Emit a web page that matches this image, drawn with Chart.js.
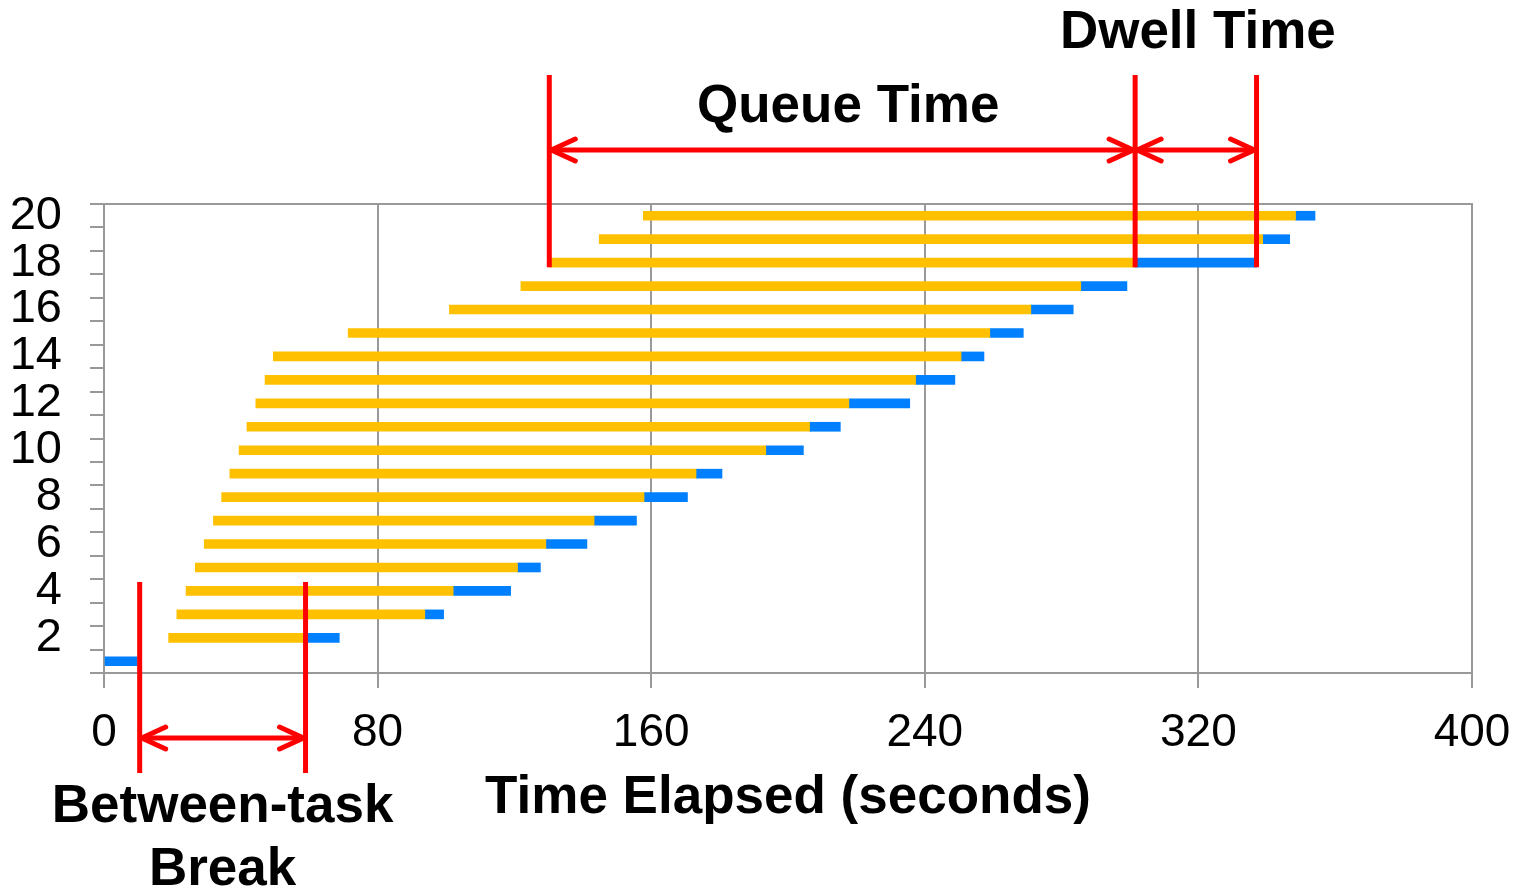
<!DOCTYPE html>
<html>
<head>
<meta charset="utf-8">
<script src="https://cdn.jsdelivr.net/npm/chart.js@4"></script>
<style>
  body { margin: 0; background: #fff; }
  canvas { display: block; }
</style>
</head>
<body>
<canvas id="myChart" width="1524" height="889"></canvas>
<script>
// rows of the chart, 1 at the bottom
const rows = ["1","2","3","4","5","6","7","8","9","10","11","12","13","14","15","16","17","18","19","20"];
// queue start, queue end (= dwell start), task end, in seconds
const queueStart = [null, 18.9, 21.3, 24.0, 26.7, 29.3, 32.0, 34.4, 36.8, 39.5, 41.8, 44.4, 47.1, 49.5, 71.4, 101.0, 121.9, 130.2, 144.8, 157.7];
const dwellStart = [0, 58.2, 93.8, 102.1, 120.9, 129.2, 143.3, 157.9, 173.1, 193.5, 206.3, 217.8, 237.3, 250.6, 259.0, 271.0, 285.6, 301.5, 338.8, 348.4];
const taskEnd = [9.7, 68.8, 99.3, 118.9, 127.6, 141.2, 155.7, 170.6, 180.7, 204.5, 215.3, 235.6, 248.8, 257.3, 268.8, 283.4, 299.1, 337.0, 346.7, 354.1];
const xTicks = [0, 80, 160, 240, 320, 400];

const queueData = rows.map((r, i) => queueStart[i] === null ? null : [queueStart[i], dwellStart[i]]);
const dwellData = rows.map((r, i) => [dwellStart[i], taskEnd[i]]);

const ctx = document.getElementById("myChart");
const RED = "#ff0000";
const FONT = "'Liberation Sans', Arial, sans-serif";

function arrowHead(c, x, y, dir) {
  c.beginPath();
  c.moveTo(x - dir * 24, y - 11);
  c.lineTo(x, y);
  c.lineTo(x - dir * 24, y + 11);
  c.stroke();
}

function arrow(c, x1, x2, y) {
  c.beginPath();
  c.moveTo(x1, y);
  c.lineTo(x2, y);
  c.stroke();
  arrowHead(c, x1, y, -1);
  arrowHead(c, x2, y, 1);
}

function vline(c, x, y1, y2) {
  c.save();
  c.lineCap = "butt";
  c.beginPath();
  c.moveTo(x, y1);
  c.lineTo(x, y2);
  c.stroke();
  c.restore();
}

const frame = {
  id: "frame",
  beforeDatasetsDraw(chart) {
    const a = chart.chartArea;
    const c = chart.ctx;
    c.save();
    c.strokeStyle = "#999";
    c.lineWidth = 2;
    c.strokeRect(a.left, a.top, a.right - a.left, a.bottom - a.top);
    c.restore();
  }
};

const notes = {
  id: "notes",
  afterDraw(chart) {
    const c = chart.ctx;
    const x = chart.scales.x;
    const y = chart.scales.y;
    c.save();
    c.strokeStyle = RED;
    c.lineWidth = 5;
    c.lineCap = "round";
    c.lineJoin = "round";

    // queue / dwell of task 18
    const q0 = x.getPixelForValue(queueStart[17]);
    const q1 = x.getPixelForValue(dwellStart[17]);
    const q2 = x.getPixelForValue(taskEnd[17]);
    const bottom18 = y.getPixelForValue(17) + 4.5;
    vline(c, q0, 75, bottom18);
    vline(c, q1, 75, bottom18);
    vline(c, q2, 75, bottom18);
    arrow(c, q0 + 2, q1 - 2, 150);
    arrow(c, q1 + 2, q2 - 2, 150);

    // between-task break
    const b0 = x.getPixelForValue(taskEnd[0]) + 2.5;
    const b1 = x.getPixelForValue(dwellStart[1]) + 2.5;
    vline(c, b0, 582, 773);
    vline(c, b1, 582, 773);
    arrow(c, b0 + 2, b1 - 2, 738);

    c.fillStyle = "#000";
    c.font = "bold 53px " + FONT;
    c.textAlign = "center";
    c.textBaseline = "alphabetic";
    c.fillText("Queue Time", (q0 + q1) / 2 + 6, 122);
    c.fillText("Dwell Time", (q1 + q2) / 2 + 2, 48);
    c.fillText("Between-task", (b0 + b1) / 2, 822);
    c.fillText("Break", (b0 + b1) / 2, 885);
    c.restore();
  }
};

const chart = new Chart(ctx, {
  type: "bar",
  data: {
    labels: rows,
    datasets: [
      {
        label: "Queue Time",
        data: queueData,
        backgroundColor: "#ffc000",
        borderWidth: 0,
        barThickness: 9,
        grouped: false,
      },
      {
        label: "Dwell Time",
        data: dwellData,
        backgroundColor: "#0080ff",
        borderWidth: 0,
        barThickness: 9,
        grouped: false,
      },
    ],
  },
  options: {
    indexAxis: "y",
    responsive: false,
    animation: false,
    layout: { padding: { top: 204, right: 52, left: 0, bottom: 0 } },
    plugins: {
      legend: { display: false },
      tooltip: { enabled: false },
    },
    scales: {
      x: {
        type: "linear",
        min: 0,
        max: 400,
        afterFit: (s) => { s.height = 216; s.paddingLeft = 0; s.paddingRight = 0; },
        afterBuildTicks: (s) => { s.ticks = xTicks.map((v) => ({ value: v })); },
        grid: { color: "#999", lineWidth: 2, tickLength: 15, tickColor: "#999" },
        border: { color: "#999", width: 2 },
        ticks: { color: "#000", font: { size: 46, family: FONT }, padding: 18, maxRotation: 0 },
        title: {
          display: true,
          text: "Time Elapsed (seconds)",
          color: "#000",
          font: { size: 53, weight: "bold", family: FONT },
          padding: { top: 0, bottom: 59 },
        },
      },
      y: {
        reverse: true,
        afterFit: (s) => { s.width = 104; },
        grid: { offset: true, drawOnChartArea: false, tickLength: 14, tickColor: "#999", lineWidth: 2 },
        border: { color: "#999", width: 2 },
        ticks: {
          autoSkip: false,
          color: "#000",
          padding: 28,
          font: { size: 47, family: FONT },
          callback: (v, i) => ((i + 1) % 2 === 0 ? rows[i] : ""),
        },
      },
    },
  },
  plugins: [frame, notes],
});
</script>
</body>
</html>
